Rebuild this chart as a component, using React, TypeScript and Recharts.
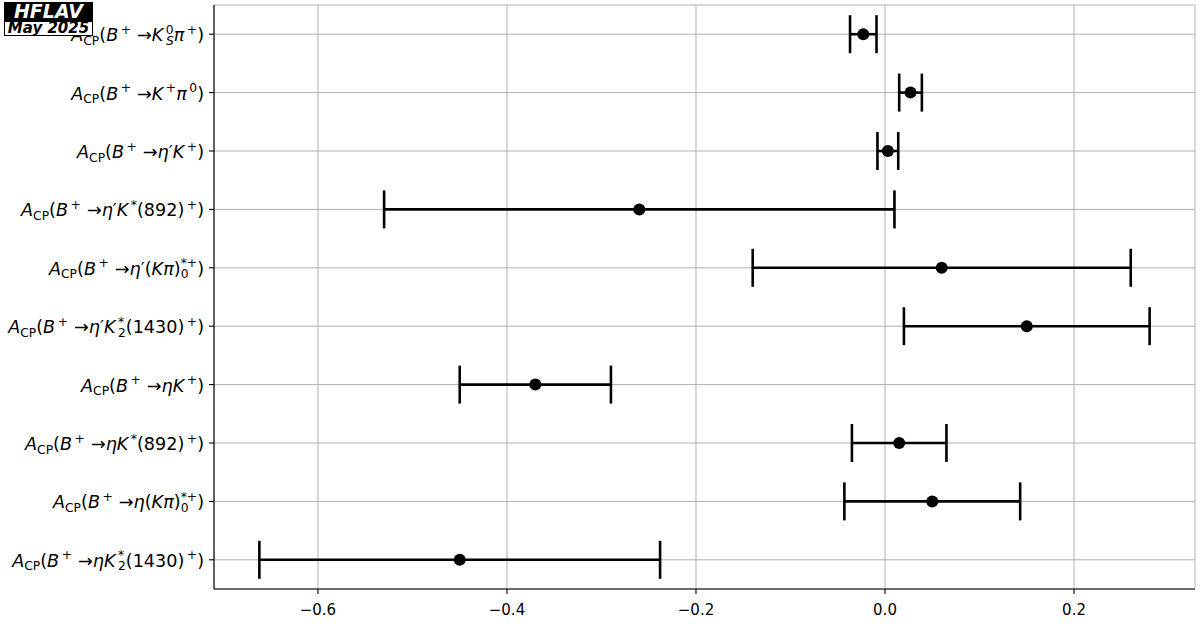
import React from 'react';
import { ScatterChart, Scatter, XAxis, YAxis, CartesianGrid, ErrorBar } from 'recharts';

const categories = [
  'KS0pi+', 'K+pi0', "eta'K+", "eta'K*(892)+", "eta'(Kpi)0*+", "eta'K2*(1430)+",
  'etaK+', 'etaK*(892)+', 'eta(Kpi)0*+', 'etaK2*(1430)+',
];
const acpValues = [-0.023, 0.027, 0.003, -0.26, 0.06, 0.15, -0.37, 0.015, 0.05, -0.45];
const acpErrors = [0.014, 0.012, 0.011, 0.27, 0.20, 0.13, 0.08, 0.05, 0.093, 0.212];
const xTicks = [-0.6, -0.4, -0.2, 0.0, 0.2];
const xDomain = [-0.71, 0.328];

const F = 17.6;
const S = F * 0.7;
type Seg = { t: string; i?: boolean; p?: 'sup' | 'sub'; back?: number; dx?: number };
const I = (t: string): Seg => ({ t, i: true });
const R = (t: string): Seg => ({ t });
const SUP = (t: string, back?: number): Seg => ({ t, p: 'sup', back, dx: back ? 0 : 2.5 });
const SUB = (t: string, back?: number, i?: boolean): Seg => ({ t, p: 'sub', back, i });
const prefix: Seg[] = [I('A'), SUB('CP'), R('('), I('B'), SUP('+'), { t: '→', dx: 6 }];
const wDigit = 0.636 * S;
const wStar = 0.5 * S;

const tickLabels: Seg[][] = [
  [...prefix, I('K'), SUP('0'), SUB('S', wDigit, true), I('π'), SUP('+'), R(')')],
  [...prefix, I('K'), SUP('+'), I('π'), SUP('0'), R(')')],
  [...prefix, I('η'), R('′'), I('K'), SUP('+'), R(')')],
  [...prefix, I('η'), R('′'), I('K'), SUP('*'), R('(892)'), SUP('+'), R(')')],
  [...prefix, I('η'), R('′'), R('('), I('K'), I('π'), R(')'), SUB('0'), SUP('*+', wDigit), R(')')],
  [...prefix, I('η'), R('′'), I('K'), SUP('*'), SUB('2', wStar), R('(1430)'), SUP('+'), R(')')],
  [...prefix, I('η'), I('K'), SUP('+'), R(')')],
  [...prefix, I('η'), I('K'), SUP('*'), R('(892)'), SUP('+'), R(')')],
  [...prefix, I('η'), R('('), I('K'), I('π'), R(')'), SUB('0'), SUP('*+', wDigit), R(')')],
  [...prefix, I('η'), I('K'), SUP('*'), SUB('2', wStar), R('(1430)'), SUP('+'), R(')')],
];

const data = categories.map((name, k) => ({ name, value: acpValues[k], err: acpErrors[k] }));

const FONT = 'DejaVu Sans';

const YTick = (props: any) => {
  const { x, y, payload } = props;
  const idx = categories.indexOf(payload.value);
  const segs = tickLabels[idx] || [];
  let cur = 0;
  return (
    <text x={x - 3} y={y + 7} textAnchor="end" fontFamily={FONT} fontSize={F} fill="#000">
      {segs.map((s, k) => {
        const target = s.p === 'sup' ? -7.5 : s.p === 'sub' ? 3.5 : 0;
        const dy = target - cur;
        cur = target;
        const dx = (s.dx || 0) - (s.back || 0);
        return (
          <tspan key={k} dy={dy} dx={dx || undefined} fontSize={s.p ? S : F} fontStyle={s.i ? 'italic' : 'normal'}>
            {s.t}
          </tspan>
        );
      })}
    </text>
  );
};

const XTick = (props: any) => {
  const { x, y, payload } = props;
  const v = payload.value as number;
  const txt = (v < 0 ? '−' : '') + Math.abs(v).toFixed(1);
  return (
    <text x={x} y={y + 19} textAnchor="middle" fontFamily={FONT} fontSize={15} fill="#000">{txt}</text>
  );
};

const Dot = (p: any) => <circle cx={p.cx} cy={p.cy} r={6} fill="#000" />;

export default function App() {
  return (
    <div style={{ position: 'absolute', left: 0, top: 0, width: 1200, height: 624, background: '#fff' }}>
      <ScatterChart width={1200} height={624} margin={{ top: 5, right: 5, bottom: 0, left: 0 }}>
        <CartesianGrid stroke="#b0b0b0" strokeWidth={1} />
        <XAxis
          type="number"
          dataKey="value"
          domain={xDomain}
          ticks={xTicks}
          allowDataOverflow
          height={35}
          tickSize={5}
          tickLine={{ stroke: '#000', strokeWidth: 1.1 }}
          axisLine={{ stroke: '#000', strokeWidth: 1.1 }}
          tick={<XTick />}
        />
        <XAxis xAxisId="top" orientation="top" type="number" domain={xDomain} height={0} tick={false} tickLine={false} axisLine={{ stroke: '#000', strokeWidth: 1.1 }} />
        <YAxis
          type="category"
          dataKey="name"
          width={214}
          reversed
          tickSize={5}
          interval={0}
          tickLine={{ stroke: '#000', strokeWidth: 1.1 }}
          axisLine={{ stroke: '#000', strokeWidth: 1.1 }}
          tick={<YTick />}
        />
        <YAxis yAxisId="right" orientation="right" type="number" width={0} tick={false} tickLine={false} axisLine={{ stroke: '#000', strokeWidth: 1.1 }} />
        <Scatter data={data} shape={<Dot />} isAnimationActive={false}>
          <ErrorBar dataKey="err" direction="x" width={19} strokeWidth={2.6} stroke="#000" />
        </Scatter>
      </ScatterChart>
      <div style={{ position: 'absolute', left: 4, top: 2, width: 89, height: 19, background: '#000', color: '#fff', fontFamily: FONT, fontWeight: 'bold', fontStyle: 'italic', fontSize: 19, lineHeight: '19px', textAlign: 'center' }}>HFLAV</div>
      <div style={{ position: 'absolute', left: 4, top: 21, width: 87, height: 13, background: '#fff', border: '1px solid #000', color: '#000', fontFamily: FONT, fontWeight: 'bold', fontStyle: 'italic', fontSize: 15, lineHeight: '13px', textAlign: 'center', whiteSpace: 'nowrap' }}>May 2025</div>
    </div>
  );
}
